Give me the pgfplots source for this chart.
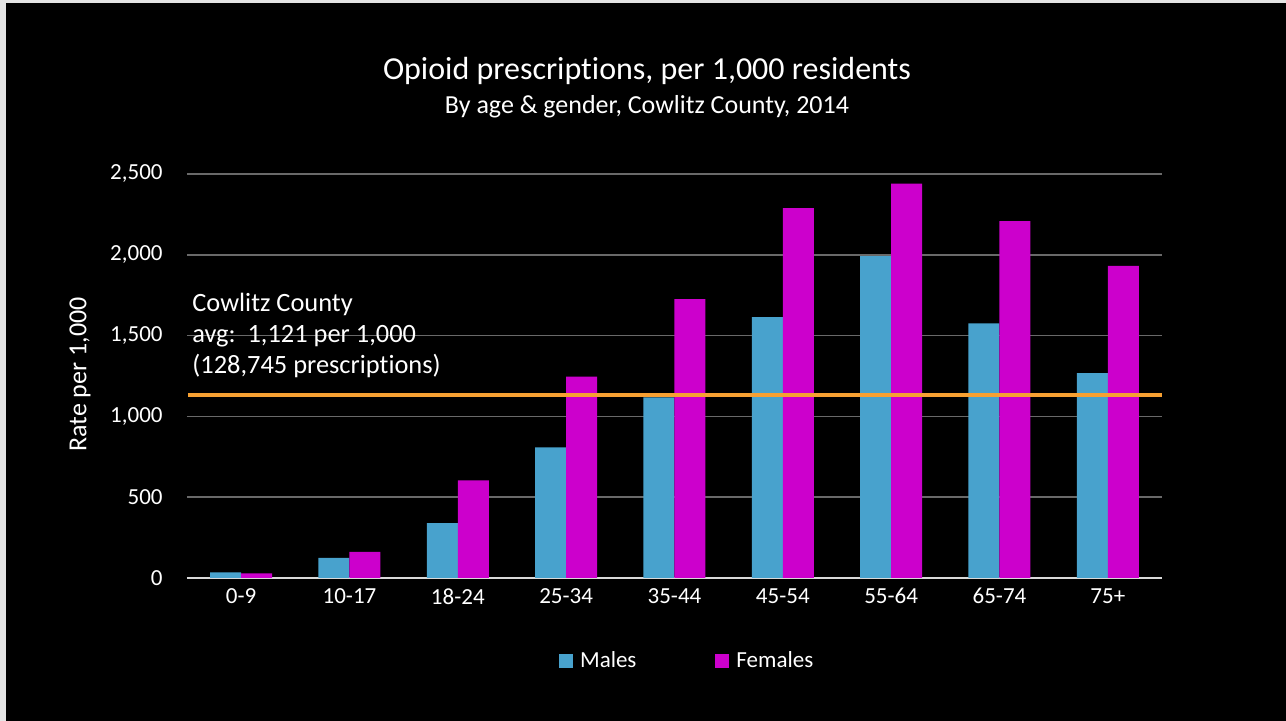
\documentclass[border=0pt]{standalone}
\usepackage{pgfplots}
\pgfplotsset{compat=1.18}
\usepackage{fontspec}
\setmainfont{Carlito}[Ligatures=NoCommon]
\definecolor{males}{RGB}{72,162,205}
\definecolor{females}{RGB}{204,0,204}
\definecolor{avgline}{RGB}{247,160,50}
\definecolor{gridc}{RGB}{105,105,105}
\definecolor{basec}{RGB}{217,217,217}
\begin{document}
\begin{tikzpicture}
\fill[white!80!gray] (0pt,0pt) rectangle (643pt,360.5pt);
\fill[black] (3pt,0pt) rectangle (643pt,359.2pt);
\begin{axis}[
  at={(93.5pt,71.5pt)}, anchor=south west,
  scale only axis, width=487.5pt, height=202pt,
  ybar=0pt, bar width=15.5pt,
  xmin=-0.5, xmax=8.5, ymin=0, ymax=2500,
  xtick={0,...,8},
  xticklabels={0-9,10-17,18-24,25-34,35-44,45-54,55-64,65-74,75+},
  ytick={0,500,1000,1500,2000,2500},
  scaled y ticks=false,
  /pgf/number format/fixed,
  /pgf/number format/1000 sep={,},
  /pgf/number format/assume math mode=true,
  axis x line*=bottom, axis y line*=left,
  y axis line style={draw=none},
  x axis line style={draw=basec, line width=0.75pt},
  ymajorgrids, grid style={gridc, line width=0.75pt},
  major tick length=0pt,
  tick label style={white, font=\fontsize{11.5}{13}\selectfont},
  yticklabel style={inner sep=0pt, xshift=-12pt},
  xticklabel style={inner sep=0pt, yshift=-5pt},
  legend columns=2,
  legend style={at={(0.512,-0.205)}, anchor=center, draw=none, fill=none,
    text=white, font=\fontsize{11.5}{13}\selectfont,
    nodes={inner sep=0pt},
    /tikz/every odd column/.append style={column sep=3.5pt},
    /tikz/every even column/.append style={column sep=39.5pt}},
]
\addplot[fill=males, draw=none,
  legend image code/.code={\fill[males] (0pt,-3.5pt) rectangle (7pt,3.5pt);}]
  coordinates {(0,35) (1,124) (2,340) (3,809) (4,1118) (5,1615) (6,1991) (7,1576) (8,1267)};
\addlegendentry{Males}
\addplot[fill=females, draw=none,
  legend image code/.code={\fill[females] (0pt,-3.5pt) rectangle (7pt,3.5pt);}]
  coordinates {(0,29) (1,161) (2,604) (3,1246) (4,1726) (5,2288) (6,2440) (7,2209) (8,1931)};
\addlegendentry{Females}
\addplot[sharp plot, avgline, line width=2pt, forget plot]
  coordinates {(-0.49,1133) (8.5,1133)};
\end{axis}
\node[white, font=\fontsize{16}{19}\selectfont] at (323.5pt,325pt) {Opioid prescriptions, per 1,000 residents};
\node[white, font=\fontsize{13}{15}\selectfont] at (323.5pt,307pt) {By age \& gender, Cowlitz County, 2014};
\node[white, rotate=90, font=\fontsize{13}{15}\selectfont] at (40pt,173.25pt) {Rate per 1,000};
\node[white, anchor=base west, inner sep=0pt, font=\fontsize{13.2}{15}\selectfont] at (96pt,204.75pt) {Cowlitz County};
\node[white, anchor=base west, inner sep=0pt, font=\fontsize{13.2}{15}\selectfont] at (96pt,189.25pt) {avg:\ \ 1,121 per 1,000};
\node[white, anchor=base west, inner sep=0pt, font=\fontsize{13.2}{15}\selectfont] at (96pt,173.75pt) {(128,745 prescriptions)};
\end{tikzpicture}
\end{document}
